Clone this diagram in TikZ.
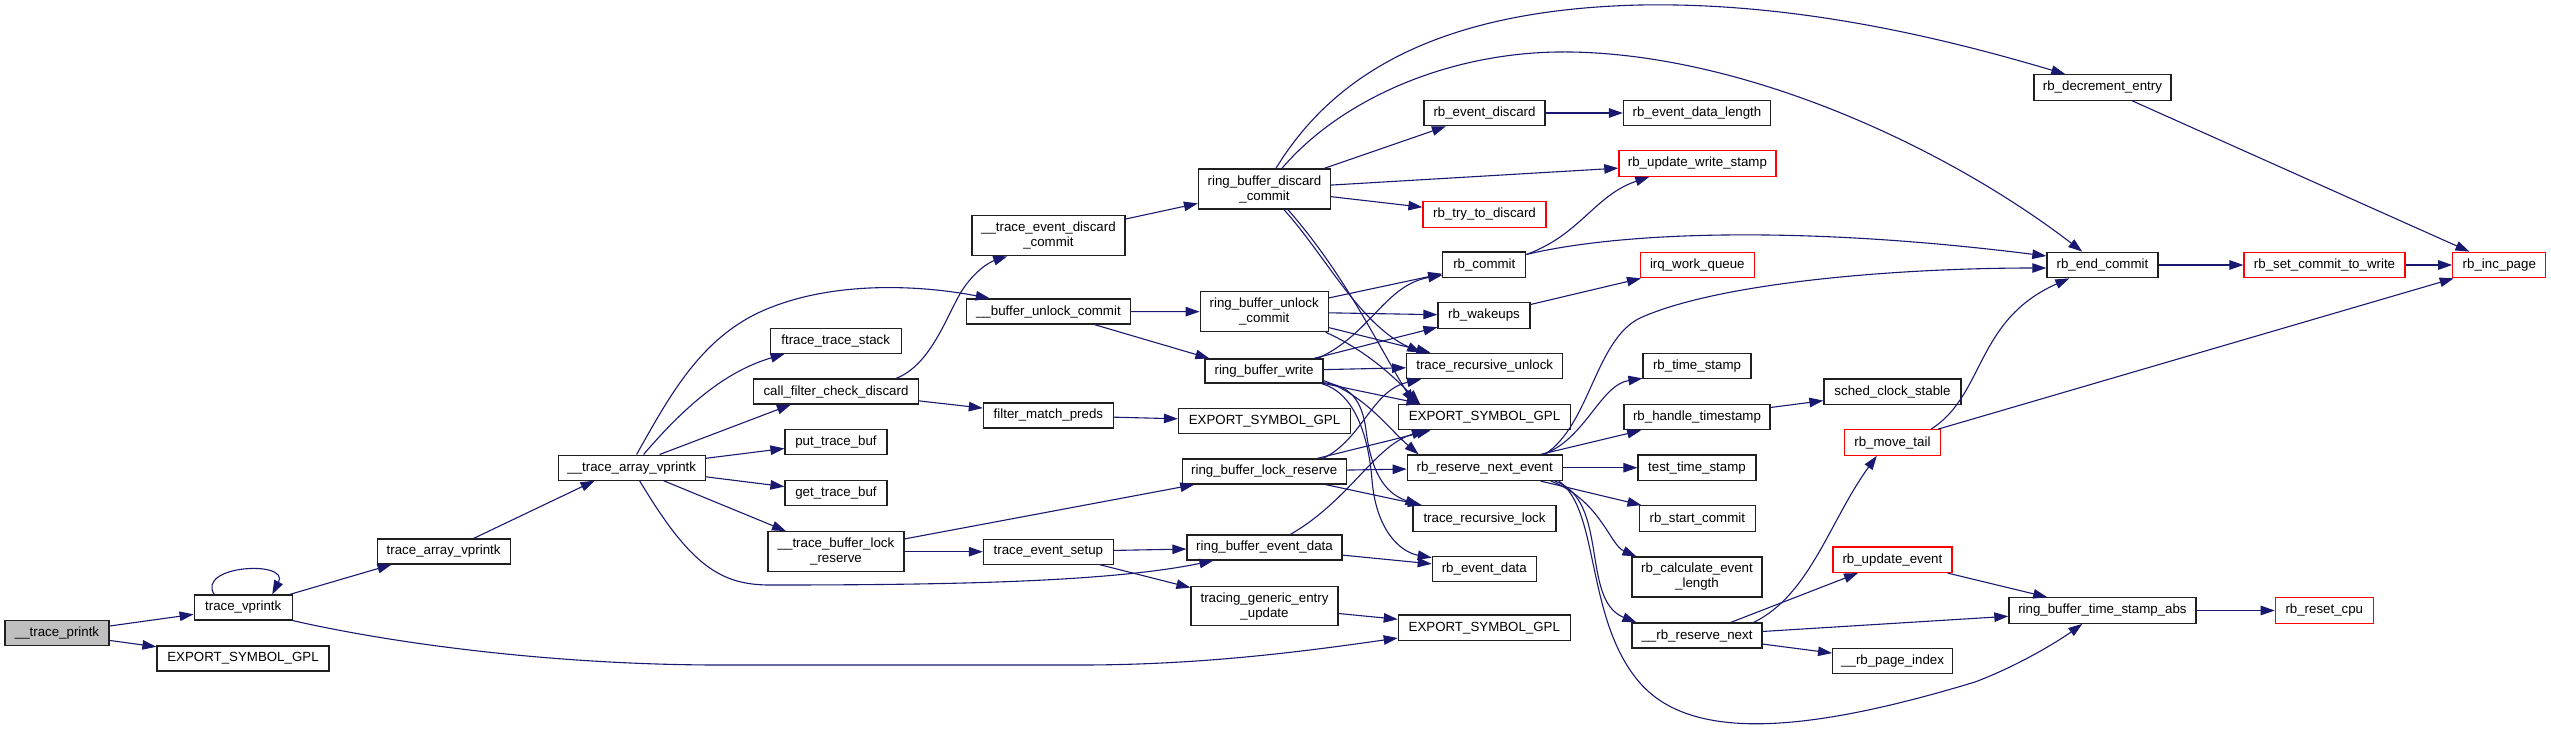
\documentclass[tikz,border=0pt]{standalone}
\usepackage{fontspec}
\setmainfont{Liberation Sans}
\usetikzlibrary{arrows.meta,calc}
\definecolor{edgeblue}{HTML}{191970}
\definecolor{rootgray}{HTML}{BFBFBF}
\definecolor{boxred}{HTML}{FF0000}
\definecolor{boxline}{HTML}{202020}
\newcommand\nodebox[7]{\node[#6, minimum width=#4pt, minimum height=#5pt] (#1) at (#2,#3) {#7};}
\begin{document}
\begin{tikzpicture}[x=1pt,y=-1pt,
  box/.style={draw=boxline, fill=white, line width=1.2pt, inner sep=0pt, align=center, font=\fontsize{13.3}{15}\selectfont},
  redbox/.style={box, draw=boxred},
  rootbox/.style={box, fill=rootgray},
  edge/.style={draw=edgeblue, line width=1.1pt, -{Triangle[length=14pt,width=9.5pt]}}]
\useasboundingbox (0,0) rectangle (2551,731);
\fill[white] (0,0) rectangle (2551,731);
% column 1-4
\nodebox{tp}{57}{633.3}{104}{25}{rootbox}{\_\_trace\_printk}
\nodebox{tv}{243.2}{607.5}{98}{25}{box}{trace\_vprintk}
\nodebox{e1}{243}{658.5}{172}{25}{box}{EXPORT\_SYMBOL\_GPL}
\nodebox{tavb}{443.6}{551.5}{133}{25}{box}{trace\_array\_vprintk}
\nodebox{tav}{631.7}{467.6}{147}{25}{box}{\_\_trace\_array\_vprintk}
% column 5
\nodebox{fts}{835.7}{340.8}{131}{25}{box}{ftrace\_trace\_stack}
\nodebox{cfcd}{836}{391.5}{165}{25}{box}{call\_filter\_check\_discard}
\nodebox{ptb}{836}{442}{102}{25}{box}{put\_trace\_buf}
\nodebox{gtb}{836}{493}{102}{25}{box}{get\_trace\_buf}
\nodebox{tblr}{836}{551.7}{136}{40}{box}{\_\_trace\_buffer\_lock\\\_reserve}
% column 6
\nodebox{tedc}{1048.4}{235.7}{153}{40}{box}{\_\_trace\_event\_discard\\\_commit}
\nodebox{buc}{1048.4}{311.5}{164}{25}{box}{\_\_buffer\_unlock\_commit}
\nodebox{fmp}{1048.4}{415.5}{130}{25}{box}{filter\_match\_preds}
\nodebox{tes}{1048.4}{551.7}{130}{25}{box}{trace\_event\_setup}
% column 7
\nodebox{rbdc}{1264.5}{189}{132}{40}{box}{ring\_buffer\_discard\\\_commit}
\nodebox{rbuc}{1264.2}{311.7}{128}{40}{box}{ring\_buffer\_unlock\\\_commit}
\nodebox{rbw}{1264}{371}{118}{24}{box}{ring\_buffer\_write}
\nodebox{e2}{1264.5}{421}{172}{25}{box}{EXPORT\_SYMBOL\_GPL}
\nodebox{rblr}{1264.2}{471.5}{164}{25}{box}{ring\_buffer\_lock\_reserve}
\nodebox{rbed}{1264.5}{547.5}{155}{25}{box}{ring\_buffer\_event\_data}
\nodebox{tgeu}{1264.5}{606.3}{147}{39}{box}{tracing\_generic\_entry\\\_update}
% column 8
\nodebox{red}{1484.5}{113}{121}{25.5}{box}{rb\_event\_discard}
\nodebox{rtd}{1484.5}{214.3}{123}{26}{redbox}{rb\_try\_to\_discard}
\nodebox{rbc}{1484.3}{264.8}{83}{25.5}{box}{rb\_commit}
\nodebox{rbwk}{1484}{315.5}{92}{25.5}{box}{rb\_wakeups}
\nodebox{tru}{1484.7}{366}{156}{25.5}{box}{trace\_recursive\_unlock}
\nodebox{e3}{1484.5}{417}{172}{25.5}{box}{EXPORT\_SYMBOL\_GPL}
\nodebox{rbrne}{1484.7}{467.7}{155}{25.5}{box}{rb\_reserve\_next\_event}
\nodebox{trl}{1484.5}{518.5}{143}{25.5}{box}{trace\_recursive\_lock}
\nodebox{rbevd}{1484.3}{569}{104}{25.5}{box}{rb\_event\_data}
\nodebox{e4}{1484.3}{627.7}{172}{25.5}{box}{EXPORT\_SYMBOL\_GPL}
% column 9
\nodebox{redl}{1697}{113}{147}{25.5}{box}{rb\_event\_data\_length}
\nodebox{ruws}{1697.4}{163.5}{157}{25.5}{redbox}{rb\_update\_write\_stamp}
\nodebox{iwq}{1697.3}{265}{114}{25.5}{redbox}{irq\_work\_queue}
\nodebox{rts}{1697}{366}{108}{25.5}{box}{rb\_time\_stamp}
\nodebox{rht}{1697}{417}{146}{25.5}{box}{rb\_handle\_timestamp}
\nodebox{tts}{1697}{467.7}{118}{25.5}{box}{test\_time\_stamp}
\nodebox{rsc}{1697.3}{518.5}{116}{25.5}{box}{rb\_start\_commit}
\nodebox{rcel}{1697}{577}{130}{40}{box}{rb\_calculate\_event\\\_length}
\nodebox{rrn}{1697}{635.5}{130}{25}{box}{\_\_rb\_reserve\_next}
% column 10
\nodebox{scs}{1892.5}{391.7}{137}{25.5}{box}{sched\_clock\_stable}
\nodebox{rmt}{1892.4}{442.5}{96}{25.5}{redbox}{rb\_move\_tail}
\nodebox{rue}{1892.4}{559.7}{119}{25.5}{redbox}{rb\_update\_event}
\nodebox{rpi}{1892.6}{661}{120}{25.5}{box}{\_\_rb\_page\_index}
% column 11-13
\nodebox{rde}{2102.4}{87.5}{137}{25.5}{box}{rb\_decrement\_entry}
\nodebox{rec}{2102.4}{265}{111}{25.5}{box}{rb\_end\_commit}
\nodebox{rtsa}{2102.4}{610.5}{187}{25.5}{box}{ring\_buffer\_time\_stamp\_abs}
\nodebox{rsctw}{2324.5}{265}{161}{25.5}{redbox}{rb\_set\_commit\_to\_write}
\nodebox{rrc}{2324.3}{610.5}{98}{25.5}{redbox}{rb\_reset\_cpu}
\nodebox{rip}{2499.3}{265}{93}{25.5}{redbox}{rb\_inc\_page}

% straight edges
\draw[edge] (tp) -- (tv);
\draw[edge] (tp) -- (e1);
\draw[edge] ($(tv.north east)+(-3,0)$) -- ($(tavb.south west)+(15,0)$);
\draw[edge] ($(tavb.north)+(30,0)$) -- ($(tav.south west)+(37,0)$);
\draw[edge] ($(tav.north west)+(102,0)$) -- ($(cfcd.south west)+(38,0)$);
\draw[edge] (tav) -- (ptb);
\draw[edge] (tav) -- (gtb);
\draw[edge] (tav) -- (tblr);
\draw[edge] (cfcd) -- (fmp);
\draw[edge] (fmp) -- (e2);
\draw[edge] (tblr) -- (rblr);
\draw[edge] (tblr) -- (tes);
\draw[edge] (tes) -- (rbed);
\draw[edge] (tes) -- (tgeu);
\draw[edge] (tedc) -- (rbdc);
\draw[edge] (buc) -- (rbuc);
\draw[edge] ($(buc.south)+(46,0)$) -- ($(rbw.north west)+(5,0)$);
\draw[edge] (rbdc) -- (red);
\draw[edge] (rbdc) -- (ruws);
\draw[edge] (rbdc) -- (rtd);
\draw[edge] (red) -- (redl);
\draw[edge] (rbuc) -- (rbc);
\draw[edge] (rbuc) -- (rbwk);
\draw[edge] (rbuc) -- (tru);
\draw[edge] (rbw) -- (rbwk);
\draw[edge] (rbw) -- (tru);
\draw[edge] (rbw) -- (e3);
\draw[edge] (rblr) -- (rbrne);
\draw[edge] (rblr) -- (trl);
\draw[edge] (rblr) -- (e3);
\draw[edge] (rbed) -- (rbevd);
\draw[edge] (tgeu) -- (e4);
\draw[edge] (rbwk) -- (iwq);
\draw[edge] (rbrne) -- (rht);
\draw[edge] (rbrne) -- (tts);
\draw[edge] (rbrne) -- (rsc);
\draw[edge] (rht) -- (scs);
\draw[edge] (rrn) -- (rue);
\draw[edge] (rrn) -- (rtsa);
\draw[edge] (rrn) -- (rpi);
\draw[edge] (rue) -- (rtsa);
\draw[edge] (rtsa) -- (rrc);
\draw[edge] (rmt) -- (rip);
\draw[edge] (rde) -- (rip);
\draw[edge] (rec) -- (rsctw);
\draw[edge] (rsctw) -- (rip);

% curved edges
\draw[edge] ($(tv.north)+(-29,0)$) .. controls (196,565) and (290,560) .. ($(tv.north)+(29,0)$);
\draw[edge] (tv.south east) .. controls (400,645) and (560,665) .. (720,665) -- (1080,665) .. controls (1200,665) and (1300,652) .. ($(e4.south west)+(0,-3)$);
\draw[edge] ($(tav.north west)+(79,0)$) .. controls (670,395) and (700,340) .. (760,312) .. controls (830,280) and (920,285) .. ($(buc.north west)+(24,0)$);
\draw[edge] ($(tav.north west)+(86,0)$) .. controls (690,400) and (730,370) .. ($(fts.south west)+(15,0)$);
\draw[edge] ($(tav.south west)+(82,0)$) .. controls (690,565) and (720,585) .. (770,585) .. controls (950,585) and (1110,582) .. ($(rbed.south west)+(27,0)$);
\draw[edge] ($(cfcd.north east)+(-23,0)$) .. controls (930,365) and (945,320) .. (961,292) .. controls (975,270) and (990,262) .. ($(tedc.south west)+(36,0)$);
\draw[edge] ($(rbdc.north west)+(78,0)$) .. controls (1330,80) and (1430,10) .. (1640,5) .. controls (1800,2) and (1950,40) .. ($(rde.north west)+(32,0)$);
\draw[edge] ($(rbdc.north west)+(84,0)$) .. controls (1340,100) and (1450,50) .. (1571,52) .. controls (1750,55) and (1950,150) .. ($(rec.north west)+(36,0)$);
\draw[edge] ($(rbdc.south west)+(86,0)$) .. controls (1325,255) and (1360,325) .. ($(tru.north west)+(15,0)$);
\draw[edge] ($(rbdc.south west)+(90,0)$) .. controls (1345,275) and (1375,340) .. ($(e3.north west)+(16,0)$);
\draw[edge] ($(rbuc.south east)+(-3,0)$) .. controls (1365,350) and (1392,375) .. ($(e3.north west)+(22,0)$);
\draw[edge] ($(rbw.north east)+(-6,0)$) .. controls (1370,335) and (1385,285) .. ($(rbc.south west)+(0,-3)$);
\draw[edge] ($(rbw.south east)+(0,-3)$) .. controls (1365,395) and (1390,430) .. ($(rbrne.north west)+(12,0)$);
\draw[edge] ($(rbw.south east)+(-1,-1)$) .. controls (1350,385) and (1362,400) .. (1366,430) .. controls (1372,480) and (1390,495) .. ($(trl.north west)+(7,0)$);
\draw[edge] ($(rbw.south east)+(-2,0)$) .. controls (1352,392) and (1368,430) .. (1372,480) .. controls (1376,530) and (1400,552) .. ($(rbevd.north west)+(0,2)$);
\draw[edge] ($(rblr.north east)+(-24,0)$) .. controls (1362,440) and (1372,390) .. ($(tru.south west)+(15,0)$);
\draw[edge] ($(rbed.north west)+(104,0)$) .. controls (1350,500) and (1375,445) .. ($(e3.south west)+(28,0)$);
\draw[edge] ($(rbc.north east)+(0,3)$) .. controls (1580,235) and (1595,195) .. ($(ruws.south west)+(31,0)$);
\draw[edge] ($(rbc.north east)+(0,3)$) .. controls (1620,232) and (1800,225) .. ($(rec.west)+(0,-9)$);
\draw[edge] ($(rbrne.north east)+(-18,0)$) .. controls (1590,425) and (1595,340) .. (1640,318) .. controls (1720,282) and (1900,268) .. ($(rec.west)+(0,3)$);
\draw[edge] ($(rbrne.north east)+(-20,0)$) .. controls (1585,440) and (1600,385) .. ($(rts.south west)+(0,-1)$);
\draw[edge] ($(rbrne.south east)+(-12,0)$) .. controls (1600,500) and (1610,545) .. ($(rcel.north west)+(5,0)$);
\draw[edge] ($(rbrne.south east)+(-8,0)$) .. controls (1610,500) and (1580,600) .. ($(rrn.north west)+(5,0)$);
\draw[edge] ($(rbrne.south east)+(-4,0)$) .. controls (1600,510) and (1585,620) .. (1640,683) .. controls (1690,740) and (1800,735) .. (1975,682) .. controls (2020,665) and (2060,640) .. ($(rtsa.south west)+(74,0)$);
\draw[edge] ($(rrn.north east)+(-9,0)$) .. controls (1810,595) and (1830,520) .. ($(rmt.south west)+(33,0)$);
\draw[edge] ($(rmt.north east)+(-10,0)$) .. controls (1985,395) and (1975,320) .. ($(rec.south west)+(23,0)$);
\end{tikzpicture}
\end{document}
